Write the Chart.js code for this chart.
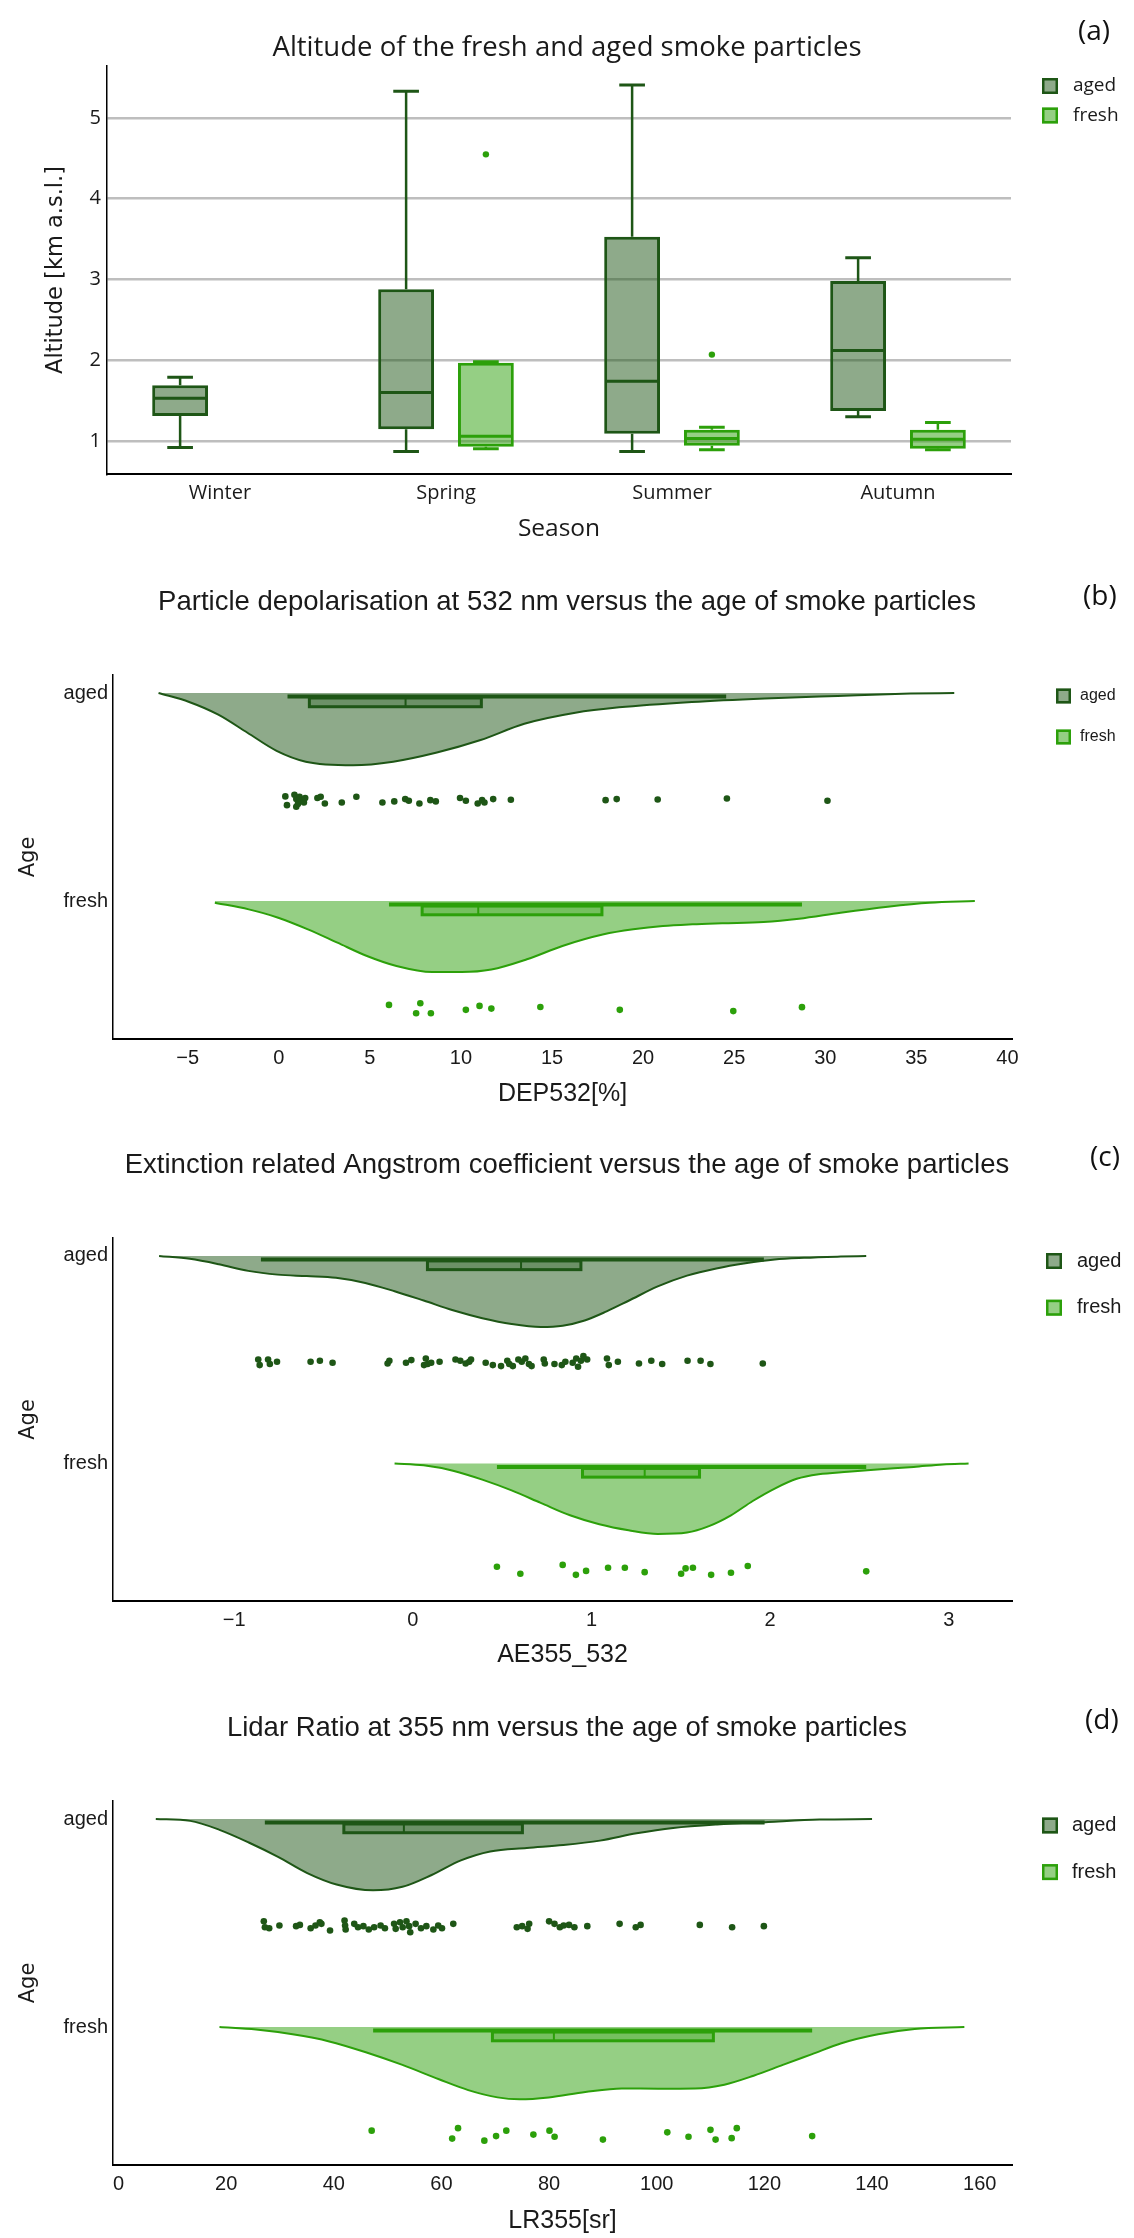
<!DOCTYPE html>
<html lang="en">
<head>
<meta charset="utf-8">
<title>Fresh and aged smoke particles</title>
<script src="https://cdn.jsdelivr.net/npm/chart.js@4.4.1/dist/chart.umd.min.js"></script>
<style>
  html, body { margin: 0; padding: 0; background: #fff; overflow: hidden; }
  #page { position: relative; width: 1134px; height: 2238px; }
  .panel { position: absolute; left: 0; width: 1134px; }
  .panel canvas { display: block; }
  .tag { position: absolute; font-family: 'Open Sans', sans-serif; font-size: 28px; line-height: 28px; color: #111; }
</style>
</head>
<body>
<div id="page">
  <div class="panel" style="top:0px"><canvas id="altChart" width="1134" height="560"></canvas></div>
  <div class="panel" style="top:560px"><canvas id="depChart" width="1134" height="563"></canvas></div>
  <div class="panel" style="top:1123px"><canvas id="aeChart" width="1134" height="563"></canvas></div>
  <div class="panel" style="top:1686px"><canvas id="lrChart" width="1134" height="552"></canvas></div>
  <div class="tag" style="left:1078px;top:15px">(a)</div>
  <div class="tag" style="left:1083px;top:580px">(b)</div>
  <div class="tag" style="left:1090px;top:1141px">(c)</div>
  <div class="tag" style="left:1085px;top:1704px">(d)</div>
</div>
<script>
// Colours shared by all panels
const AGED_LINE = 'rgb(30, 86, 22)';
const AGED_FILL = 'rgba(30, 86, 22, 0.5)';
const AGED_BOX = 'rgba(30, 86, 22, 0.3)';
const FRESH_LINE = 'rgb(44, 160, 10)';
const FRESH_FILL = 'rgba(44, 160, 10, 0.5)';
const FRESH_BOX = 'rgba(44, 160, 10, 0.3)';
const TEXT = '#1a1a1a';

Chart.defaults.color = TEXT;

// (a) Altitude per season: box statistics
const seasons = ['Winter', 'Spring', 'Summer', 'Autumn'];
const altTicks = [1, 2, 3, 4, 5];
const agedMin = [0.92, 0.87, 0.87, 1.30];
const agedQ1 = [1.31, 1.145, 1.09, 1.37];
const agedMed = [1.53, 1.60, 1.74, 2.12];
const agedQ3 = [1.69, 2.88, 3.53, 2.98];
const agedMax = [1.79, 5.33, 5.41, 3.27];
const freshMin = [null, 0.905, 0.89, 0.89];
const freshQ1 = [null, 0.93, 0.94, 0.905];
const freshMed = [null, 1.06, 1.03, 1.02];
const freshQ3 = [null, 1.97, 1.14, 1.14];
const freshMax = [null, 1.98, 1.17, 1.23];
const freshOutliers = [null, 4.55, 2.07, null];

// (b) DEP532 [%]
const depTicks = [-5, 0, 5, 10, 15, 20, 25, 30, 35, 40];
const depAgedBox = [0.48, 1.68, 6.96, 11.12, 24.56];   // min, q1, median, q3, max
const depFreshBox = [6.05, 7.87, 10.95, 17.74, 28.72];
const depAgedCurveX = [-6.6, -4.92, -3.32, -1.72, -0.12, 1.48, 4.08, 6.28, 8.68, 11.08, 13.48, 16.28, 18.68, 22.68, 26.68, 30.68, 34.68, 37.08];
const depAgedCurveH = [0, 0.043, 0.104, 0.191, 0.278, 0.33, 0.347, 0.33, 0.286, 0.226, 0.148, 0.095, 0.069, 0.043, 0.026, 0.014, 0.003, 0];
const depFreshCurveX = [-3.51, -1.65, -0.03, 1.60, 3.22, 4.84, 6.46, 8.42, 10.04, 11.67, 13.62, 15.57, 17.84, 19.46, 21.09, 22.71, 24.34, 26.61, 28.56, 30.84, 33.43, 35.71, 38.21];
const depFreshCurveH = [0.008, 0.040, 0.080, 0.136, 0.200, 0.264, 0.312, 0.341, 0.341, 0.329, 0.280, 0.216, 0.160, 0.136, 0.120, 0.112, 0.107, 0.101, 0.085, 0.056, 0.027, 0.008, 0];
const depAgedPts = [0.36, 0.45, 0.86, 0.96, 0.96, 1.05, 1.14, 1.23, 1.38, 1.45, 2.12, 2.30, 2.53, 3.46, 4.26, 5.69, 6.34, 6.94, 7.14, 7.72, 8.32, 8.62, 9.95, 10.27, 10.92, 11.16, 11.29, 11.77, 12.74, 17.94, 18.55, 20.80, 24.60, 30.12];
const depAgedJit = [-0.018, 0.024, -0.026, -0.005, 0.032, 0.019, -0.016, 0.003, 0.011, -0.010, -0.010, -0.016, 0.016, 0.011, -0.016, 0.011, 0.006, -0.005, 0.003, 0.016, 0, 0.006, -0.010, 0.003, 0.016, 0, 0.011, -0.005, -0.002, 0, -0.005, -0.003, -0.008, 0.003];
const depFreshPts = [6.05, 7.77, 7.54, 8.35, 10.27, 11.02, 11.67, 14.36, 18.72, 24.95, 28.72];
const depFreshJit = [-0.016, -0.024, 0.024, 0.024, 0.008, -0.011, 0.002, -0.006, 0.008, 0.014, -0.005];

// (c) AE355_532
const aeTicks = [-1, 0, 1, 2, 3];
const aeAgedBox = [-0.85, 0.082, 0.606, 0.941, 1.965];
const aeFreshBox = [0.471, 0.95, 1.298, 1.605, 2.538];
const aeAgedCurveX = [-1.420, -1.248, -1.085, -0.921, -0.757, -0.594, -0.430, -0.266, -0.102, 0.061, 0.225, 0.389, 0.553, 0.716, 0.839, 0.962, 1.085, 1.208, 1.371, 1.535, 1.699, 1.862, 2.026, 2.190, 2.395, 2.538];
const aeAgedCurveH = [0, 0.014, 0.040, 0.072, 0.090, 0.097, 0.105, 0.130, 0.170, 0.215, 0.262, 0.300, 0.328, 0.342, 0.336, 0.311, 0.267, 0.216, 0.147, 0.095, 0.060, 0.035, 0.017, 0.009, 0.003, 0];
const aeFreshCurveX = [-0.102, 0.061, 0.225, 0.389, 0.553, 0.716, 0.880, 1.044, 1.208, 1.371, 1.535, 1.658, 1.781, 1.903, 2.026, 2.149, 2.272, 2.436, 2.599, 2.804, 2.968, 3.111];
const aeFreshCurveH = [0, 0.009, 0.035, 0.078, 0.130, 0.190, 0.250, 0.293, 0.322, 0.340, 0.333, 0.302, 0.250, 0.181, 0.121, 0.074, 0.052, 0.040, 0.029, 0.017, 0.005, 0];
const aeAgedPts = [-0.865, -0.857, -0.810, -0.800, -0.760, -0.572, -0.520, -0.449, -0.141, -0.131, -0.038, -0.008, 0.063, 0.073, 0.083, 0.103, 0.150, 0.239, 0.266, 0.296, 0.316, 0.326, 0.408, 0.448, 0.494, 0.529, 0.540, 0.560, 0.591, 0.610, 0.630, 0.650, 0.665, 0.733, 0.739, 0.793, 0.834, 0.854, 0.895, 0.915, 0.925, 0.941, 0.955, 0.976, 1.087, 1.097, 1.148, 1.266, 1.335, 1.396, 1.538, 1.611, 1.666, 1.959];
const aeAgedJit = [-0.016, 0.011, -0.016, 0.006, -0.005, -0.005, -0.010, 0, 0.003, -0.010, 0, -0.013, 0.011, -0.021, 0.006, 0, -0.005, -0.016, -0.010, 0.003, -0.005, -0.016, 0, 0.011, 0.016, -0.010, 0.006, 0.016, -0.016, -0.005, -0.021, 0.006, 0.016, -0.016, 0.003, 0.006, 0.011, -0.005, 0, -0.021, 0.019, -0.010, -0.032, -0.016, -0.021, 0.011, -0.005, 0.003, -0.010, 0.006, -0.010, -0.010, 0.006, 0.003];
const aeFreshPts = [0.471, 0.602, 0.839, 0.913, 0.970, 1.093, 1.187, 1.298, 1.502, 1.527, 1.568, 1.670, 1.781, 1.875, 2.538];
const aeFreshJit = [-0.017, 0.017, -0.026, 0.022, 0.003, -0.012, -0.012, 0.009, 0.017, -0.009, -0.012, 0.022, 0.012, -0.021, 0.005];

// (d) LR355 [sr]
const lrTicks = [0, 20, 40, 60, 80, 100, 120, 140, 160];
const lrAgedBox = [27.19, 41.87, 53.02, 75.04, 120.04];
const lrFreshBox = [47.31, 69.47, 80.89, 110.52, 128.87];
const lrAgedCurveX = [6.93, 13.32, 18.76, 24.20, 29.64, 35.07, 40.51, 47.31, 52.75, 58.18, 63.62, 69.06, 75.86, 82.65, 89.45, 96.25, 103.05, 111.20, 120.72, 130.23, 140.0];
const lrAgedCurveH = [0, 0.009, 0.052, 0.113, 0.182, 0.260, 0.315, 0.343, 0.326, 0.269, 0.199, 0.156, 0.139, 0.125, 0.104, 0.069, 0.043, 0.026, 0.014, 0.003, 0];
const lrFreshCurveX = [18.76, 25.56, 32.35, 39.15, 45.95, 52.75, 59.54, 64.98, 70.42, 74.50, 79.93, 86.73, 93.53, 100.33, 107.12, 112.56, 118.0, 123.43, 128.87, 134.31, 141.11, 147.91, 157.15];
const lrFreshCurveH = [0, 0.012, 0.035, 0.069, 0.121, 0.182, 0.251, 0.303, 0.338, 0.347, 0.338, 0.312, 0.295, 0.296, 0.295, 0.277, 0.234, 0.182, 0.130, 0.078, 0.035, 0.009, 0];
const lrAgedPts = [27.0, 27.2, 28.0, 29.9, 33.0, 33.7, 35.7, 36.6, 37.4, 37.7, 39.3, 42.0, 42.1, 42.2, 43.8, 44.5, 45.5, 46.5, 47.5, 48.7, 49.5, 51.2, 51.5, 52.3, 52.8, 53.5, 54.0, 54.2, 55.2, 56.2, 57.2, 58.5, 59.4, 60.1, 62.2, 74.0, 75.0, 76.0, 76.3, 80.0, 81.0, 82.0, 82.7, 83.7, 84.7, 87.1, 93.1, 96.1, 97.0, 108.0, 114.0, 119.9];
const lrAgedJit = [-0.023, 0.005, 0.010, -0.003, 0, -0.006, 0.010, -0.003, -0.019, -0.011, 0.021, -0.027, -0.003, 0.016, -0.011, 0.005, 0, 0.016, 0.005, -0.003, 0.010, -0.011, 0.013, -0.019, 0.005, -0.023, 0, 0.029, -0.011, 0.010, 0, 0.016, -0.003, 0.010, -0.011, 0.005, 0, 0.013, -0.011, -0.023, -0.011, 0.005, -0.003, -0.006, 0.005, 0, -0.011, 0.005, -0.006, -0.006, 0.005, 0];
const lrFreshPts = [47.04, 63.08, 61.99, 67.97, 70.15, 72.05, 77.08, 80.07, 81.02, 90.0, 101.96, 105.9, 109.98, 110.93, 113.92, 114.87, 128.87];
const lrFreshJit = [-0.017, -0.029, 0.021, 0.031, 0.009, -0.017, 0.002, -0.017, 0.012, 0.026, -0.009, 0.012, -0.021, 0.026, 0.019, -0.029, 0.009];

const ageLabels = ['aged', 'fresh'];
const ROW = 0.515;   // jittered points sit this far below each baseline

// Empty axis on the right that keeps room for the legend (title stays centred on the canvas)
function legendGap(width) {
    return {
        axis: 'y',
        position: 'right',
        display: true,
        grid: { display: false, drawTicks: false },
        border: { display: false },
        ticks: { display: false },
        afterFit(scale) { scale.width = width; }
    };
}

// Legend drawn to the right of the plot, from the datasets flagged inLegend
const sideLegend = {
    id: 'sideLegend',
    afterDraw(chart, args, opts) {
        const ctx = chart.ctx;
        const items = chart.data.datasets.filter(ds => ds.inLegend);
        ctx.save();
        ctx.font = opts.font;
        ctx.textBaseline = 'middle';
        items.forEach((ds, i) => {
            const cy = opts.y + i * opts.gap;
            const s = opts.box;
            ctx.fillStyle = ds.legendFill;
            ctx.fillRect(opts.x, cy - s / 2, s, s);
            ctx.lineWidth = 2.5;
            ctx.strokeStyle = ds.borderColor;
            ctx.strokeRect(opts.x + 1.25, cy - s / 2 + 1.25, s - 2.5, s - 2.5);
            ctx.fillStyle = TEXT;
            ctx.fillText(ds.label, opts.textX, cy);
        });
        ctx.restore();
    }
};

// Whiskers, medians and outliers on top of the floating bars of panel (a)
const altWhiskers = {
    id: 'altWhiskers',
    afterDatasetsDraw(chart, args, opts) {
        const ctx = chart.ctx;
        const y = chart.scales.y;
        opts.groups.forEach((g, di) => {
            const meta = chart.getDatasetMeta(di);
            meta.data.forEach((bar, i) => {
                if (g.q1[i] == null) return;
                const {x, width} = bar.getProps(['x', 'width'], true);
                const cap = width * 0.23;
                ctx.save();
                ctx.strokeStyle = g.line;
                ctx.lineWidth = 2.5;
                ctx.beginPath();
                ctx.moveTo(x, y.getPixelForValue(g.q3[i]));
                ctx.lineTo(x, y.getPixelForValue(g.max[i]));
                ctx.moveTo(x, y.getPixelForValue(g.q1[i]));
                ctx.lineTo(x, y.getPixelForValue(g.min[i]));
                ctx.stroke();
                ctx.lineWidth = 3;
                ctx.beginPath();
                ctx.moveTo(x - cap, y.getPixelForValue(g.max[i]));
                ctx.lineTo(x + cap, y.getPixelForValue(g.max[i]));
                ctx.moveTo(x - cap, y.getPixelForValue(g.min[i]));
                ctx.lineTo(x + cap, y.getPixelForValue(g.min[i]));
                ctx.moveTo(x - width / 2 + 1.5, y.getPixelForValue(g.med[i]));
                ctx.lineTo(x + width / 2 - 1.5, y.getPixelForValue(g.med[i]));
                ctx.stroke();
                if (g.out && g.out[i] != null) {
                    ctx.fillStyle = g.line;
                    ctx.beginPath();
                    ctx.arc(x, y.getPixelForValue(g.out[i]), 3.2, 0, Math.PI * 2);
                    ctx.fill();
                }
                ctx.restore();
            });
        });
    }
};

// Thin horizontal box plots lying just under each violin baseline
const rainBoxes = {
    id: 'rainBoxes',
    afterDatasetsDraw(chart, args, opts) {
        const ctx = chart.ctx;
        const xs = chart.scales.x, ys = chart.scales.y;
        opts.boxes.forEach(b => {
            const [mn, q1, md, q3, mx] = b.stats;
            const yw = ys.getPixelForValue(b.base + 0.017);
            const yt = ys.getPixelForValue(b.base + 0.024);
            const yb = ys.getPixelForValue(b.base + 0.066);
            ctx.save();
            ctx.strokeStyle = b.line;
            ctx.lineWidth = 4;
            ctx.beginPath();
            ctx.moveTo(xs.getPixelForValue(mn), yw);
            ctx.lineTo(xs.getPixelForValue(mx), yw);
            ctx.stroke();
            const x1 = xs.getPixelForValue(q1), x3 = xs.getPixelForValue(q3);
            ctx.fillStyle = b.fill;
            ctx.fillRect(x1, yt, x3 - x1, yb - yt);
            ctx.lineWidth = 3;
            ctx.strokeRect(x1, yt, x3 - x1, yb - yt);
            ctx.lineWidth = 2;
            ctx.beginPath();
            ctx.moveTo(xs.getPixelForValue(md), yt);
            ctx.lineTo(xs.getPixelForValue(md), yb);
            ctx.stroke();
            ctx.restore();
        });
    }
};

// Panel (a)
new Chart(document.getElementById('altChart'), {
    type: 'bar',
    data: {
        labels: seasons,
        datasets: [{
            label: 'aged',
            data: seasons.map((s, i) => [agedQ1[i], agedQ3[i]]),
            yAxisID: 'y',
            backgroundColor: AGED_FILL,
            borderColor: AGED_LINE,
            legendFill: AGED_FILL,
            borderWidth: 3,
            borderSkipped: false,
            inLegend: true
        }, {
            label: 'fresh',
            data: seasons.map((s, i) => freshQ1[i] == null ? null : [freshQ1[i], freshQ3[i]]),
            yAxisID: 'y',
            backgroundColor: FRESH_FILL,
            borderColor: FRESH_LINE,
            legendFill: FRESH_FILL,
            borderWidth: 3,
            borderSkipped: false,
            inLegend: true
        }]
    },
    options: {
        responsive: false,
        animation: false,
        categoryPercentage: 0.706,
        barPercentage: 0.70,
        layout: { padding: 0 },
        plugins: {
            legend: { display: false },
            tooltip: { enabled: false },
            title: {
                display: true,
                text: 'Altitude of the fresh and aged smoke particles',
                color: TEXT,
                font: { family: 'Open Sans', size: 27.5, weight: 'normal' },
                padding: { top: 32, bottom: 1 }
            },
            sideLegend: { x: 1042, y: 86, gap: 29.5, box: 16, textX: 1073, font: '19px "Open Sans"' },
            altWhiskers: {
                groups: [
                    { q1: agedQ1, q3: agedQ3, med: agedMed, min: agedMin, max: agedMax, line: AGED_LINE },
                    { q1: freshQ1, q3: freshQ3, med: freshMed, min: freshMin, max: freshMax, out: freshOutliers, line: FRESH_LINE }
                ]
            }
        },
        scales: {
            x: {
                grid: { display: false, drawTicks: false },
                border: { display: true, color: '#000', width: 2 },
                ticks: { font: { family: 'Open Sans', size: 20 }, color: TEXT, padding: 7 },
                title: { display: true, text: 'Season', color: TEXT, font: { family: 'Open Sans', size: 24.5 }, padding: { top: 0, bottom: 16 } },
                afterFit(scale) { scale.height = 86; }
            },
            y: {
                min: 0.591,
                max: 5.644,
                afterBuildTicks(scale) { scale.ticks = altTicks.map(v => ({ value: v })); },
                grid: { color: '#bebebe', lineWidth: 2.5, drawTicks: false },
                border: { display: true, color: '#000', width: 1.5 },
                ticks: { font: { family: 'Open Sans', size: 20 }, color: TEXT, padding: 6 },
                title: { display: true, text: 'Altitude [km a.s.l.]', color: TEXT, font: { family: 'DejaVu Sans', size: 22.5 }, padding: { top: 43, bottom: 0 } },
                afterFit(scale) { scale.width = 107; }
            },
            gap: legendGap(123)
        }
    },
    plugins: [altWhiskers, sideLegend]
});

// Panels (b)-(d): half violin + box + jittered points
function rainChart(canvasId, o) {
    return new Chart(document.getElementById(canvasId), {
        type: 'line',
        data: {
            datasets: [{
                label: 'aged',
                data: o.agedCurveX.map((x, i) => ({ x: x, y: o.agedCurveH[i] })),
                yAxisID: 'y',
                borderColor: AGED_LINE,
                backgroundColor: AGED_FILL,
                legendFill: AGED_FILL,
                borderWidth: 2,
                fill: { value: 0 },
                pointRadius: 0,
                cubicInterpolationMode: 'monotone',
                inLegend: true
            }, {
                label: 'fresh',
                data: o.freshCurveX.map((x, i) => ({ x: x, y: 1 + o.freshCurveH[i] })),
                yAxisID: 'y',
                borderColor: FRESH_LINE,
                backgroundColor: FRESH_FILL,
                legendFill: FRESH_FILL,
                borderWidth: 2,
                fill: { value: 1 },
                pointRadius: 0,
                cubicInterpolationMode: 'monotone',
                inLegend: true
            }, {
                type: 'scatter',
                data: o.agedPts.map((x, i) => ({ x: x, y: ROW + o.agedJit[i] })),
                yAxisID: 'y',
                backgroundColor: AGED_LINE,
                borderWidth: 0,
                pointRadius: 3.3
            }, {
                type: 'scatter',
                data: o.freshPts.map((x, i) => ({ x: x, y: 1 + ROW + o.freshJit[i] })),
                yAxisID: 'y',
                backgroundColor: FRESH_LINE,
                borderWidth: 0,
                pointRadius: 3.3
            }]
        },
        options: {
            responsive: false,
            animation: false,
            layout: { padding: 0 },
            plugins: {
                legend: { display: false },
                tooltip: { enabled: false },
                title: {
                    display: true,
                    text: o.title,
                    color: TEXT,
                    font: { family: 'Liberation Sans', size: 27.5, weight: 'normal' },
                    padding: { top: 25.5, bottom: 56.5 }
                },
                sideLegend: o.legend,
                rainBoxes: {
                    boxes: [
                        { stats: o.agedBox, base: 0, line: AGED_LINE, fill: AGED_BOX },
                        { stats: o.freshBox, base: 1, line: FRESH_LINE, fill: FRESH_BOX }
                    ]
                }
            },
            scales: {
                x: {
                    type: 'linear',
                    min: o.xMin,
                    max: o.xMax,
                    afterBuildTicks(scale) { scale.ticks = o.ticks.map(v => ({ value: v })); },
                    grid: { display: false, drawTicks: false },
                    border: { display: true, color: '#000', width: 2 },
                    ticks: {
                        autoSkip: false,
                        maxRotation: 0,
                        font: { family: 'Liberation Sans', size: 20 },
                        color: TEXT,
                        padding: 7,
                        callback: v => v < 0 ? '\u2212' + Math.abs(v) : String(v)
                    },
                    title: { display: true, text: o.xTitle, color: TEXT, font: { family: 'Liberation Sans', size: 25 }, padding: { top: 0, bottom: o.xTitlePad } },
                    afterFit(scale) { scale.height = o.axisHeight; }
                },
                y: {
                    type: 'linear',
                    reverse: true,
                    min: -0.0865,
                    max: 1.663,
                    afterBuildTicks(scale) { scale.ticks = ageLabels.map((a, i) => ({ value: i })); },
                    grid: { display: false, drawTicks: false },
                    border: { display: true, color: '#000', width: 1.5 },
                    ticks: {
                        font: { family: 'Liberation Sans', size: 20 },
                        color: TEXT,
                        padding: 5,
                        callback: (v, i) => ageLabels[i]
                    },
                    title: { display: true, text: 'Age', color: TEXT, font: { family: 'DejaVu Sans', size: 21 }, padding: { top: 16, bottom: 0 } },
                    afterFit(scale) { scale.width = 113; }
                },
                gap: legendGap(122)
            }
        },
        plugins: [rainBoxes, sideLegend]
    });
}

rainChart('depChart', {
    title: 'Particle depolarisation at 532 nm versus the age of smoke particles',
    xTitle: 'DEP532[%]',
    xMin: -9.1, xMax: 40.25, ticks: depTicks,
    axisHeight: 84, xTitlePad: 14,
    agedBox: depAgedBox, freshBox: depFreshBox,
    agedCurveX: depAgedCurveX, agedCurveH: depAgedCurveH,
    freshCurveX: depFreshCurveX, freshCurveH: depFreshCurveH,
    agedPts: depAgedPts, agedJit: depAgedJit,
    freshPts: depFreshPts, freshJit: depFreshJit,
    legend: { x: 1056, y: 136, gap: 41, box: 15, textX: 1080, font: '16px "Liberation Sans"' }
});

rainChart('aeChart', {
    title: 'Extinction related Angstrom coefficient versus the age of smoke particles',
    xTitle: 'AE355_532',
    xMin: -1.678, xMax: 3.354, ticks: aeTicks,
    axisHeight: 85, xTitlePad: 16,
    agedBox: aeAgedBox, freshBox: aeFreshBox,
    agedCurveX: aeAgedCurveX, agedCurveH: aeAgedCurveH,
    freshCurveX: aeFreshCurveX, freshCurveH: aeFreshCurveH,
    agedPts: aeAgedPts, agedJit: aeAgedJit,
    freshPts: aeFreshPts, freshJit: aeFreshJit,
    legend: { x: 1046, y: 138, gap: 46.7, box: 16, textX: 1077, font: '20px "Liberation Sans"' }
});

rainChart('lrChart', {
    title: 'Lidar Ratio at 355 nm versus the age of smoke particles',
    xTitle: 'LR355[sr]',
    xMin: -1.02, xMax: 166.0, ticks: lrTicks,
    axisHeight: 73, xTitlePad: 1.5,
    agedBox: lrAgedBox, freshBox: lrFreshBox,
    agedCurveX: lrAgedCurveX, agedCurveH: lrAgedCurveH,
    freshCurveX: lrFreshCurveX, freshCurveH: lrFreshCurveH,
    agedPts: lrAgedPts, agedJit: lrAgedJit,
    freshPts: lrFreshPts, freshJit: lrFreshJit,
    legend: { x: 1042, y: 139.5, gap: 46.6, box: 16, textX: 1072, font: '20px "Liberation Sans"' }
});
</script>
</body>
</html>
